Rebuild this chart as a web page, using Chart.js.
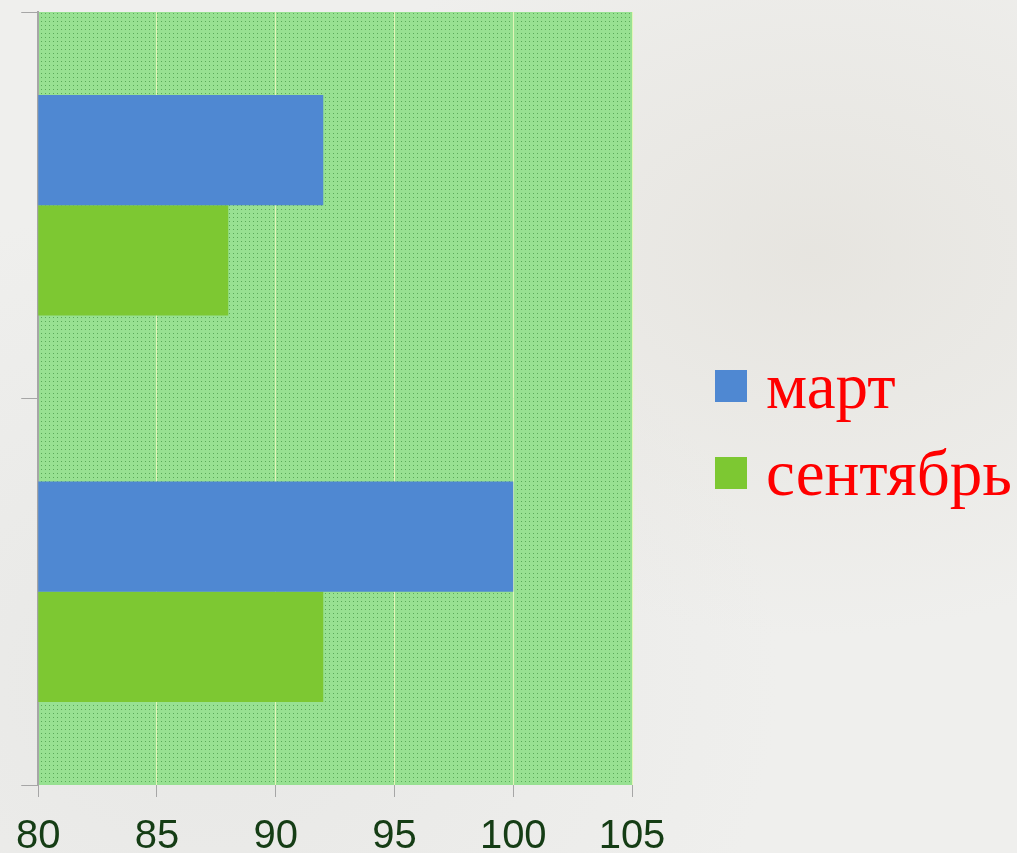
<!DOCTYPE html>
<html>
<head>
<meta charset="utf-8">
<script src="https://cdn.jsdelivr.net/npm/chart.js@4.4.1/dist/chart.umd.min.js"></script>
<style>
  html,body{margin:0;padding:0;}
  body{
    width:1017px;height:853px;overflow:hidden;position:relative;
    background:
      radial-gradient(ellipse at 80% 30%, rgba(225,222,215,0.6), rgba(0,0,0,0) 45%),
      radial-gradient(ellipse at 20% 80%, rgba(228,228,226,0.7), rgba(0,0,0,0) 50%),
      #efefed;
  }
  #wrap{position:absolute;left:0;top:0;width:1017px;height:853px;}
  .legend{position:absolute;left:715px;font-family:"Liberation Serif","Times New Roman",serif;font-size:65px;color:#ff0000;line-height:1;}
  .legend .item{position:absolute;left:0;white-space:nowrap;}
  .legend .box{position:absolute;left:0;width:32px;height:32px;}
  .legend .txt{position:absolute;left:51px;top:-16px;}
</style>
</head>
<body>
<div id="wrap"><canvas id="chart" width="1017" height="853"></canvas></div>
<div class="legend" id="legend"></div>
<script>
// dados do gráfico
const categories = ['', ''];
const seriesNames = ['март', 'сентябрь'];
const marchValues = [92, 100];
const septemberValues = [88, 92];
const xTicks = [80, 85, 90, 95, 100, 105];

const colors = ['#4f88d2', '#7dc832'];

// fundo pontilhado da área do gráfico
function makePattern(){
  const c = document.createElement('canvas');
  c.width = 8; c.height = 4;
  const g = c.getContext('2d');
  g.fillStyle = '#98e192';
  g.fillRect(0,0,8,4);
  g.fillStyle = 'rgba(70,150,70,0.75)';
  g.fillRect(1,1,1,1);
  g.fillRect(5,1,1,1);
  return c;
}

const plotBg = {
  id:'plotBg',
  beforeDraw(chart){
    const {ctx, chartArea:a} = chart;
    ctx.save();
    ctx.fillStyle = ctx.createPattern(makePattern(), 'repeat');
    ctx.fillRect(a.left, a.top, a.right-a.left, a.bottom-a.top);
    ctx.restore();
  }
};

function buildLegend(){
  const el = document.getElementById('legend');
  const tops = [370, 457];
  seriesNames.forEach((n,i)=>{
    const it = document.createElement('div');
    it.className = 'item';
    it.style.top = tops[i]+'px';
    it.innerHTML = '<div class="box" style="background:'+colors[i]+'"></div><div class="txt">'+n+'</div>';
    el.appendChild(it);
  });
}

document.addEventListener('DOMContentLoaded',()=>{
  const ctx = document.getElementById('chart').getContext('2d');
  new Chart(ctx,{
    type:'bar',
    data:{
      labels:categories,
      datasets:[
        {label:seriesNames[0], data:marchValues, backgroundColor:colors[0]},
        {label:seriesNames[1], data:septemberValues, backgroundColor:colors[1]}
      ]
    },
    options:{
      indexAxis:'y',
      responsive:false,
      animation:false,
      layout:{padding:{top:12,right:385,left:0,bottom:0}},
      datasets:{bar:{categoryPercentage:0.57, barPercentage:1}},
      plugins:{legend:{display:false}, tooltip:{enabled:false}},
      scales:{
        x:{
          type:'linear', min:80, max:105,
          afterBuildTicks(s){ s.ticks = xTicks.map(v=>({value:v})); },
          afterFit(s){ s.height = 68; },
          grid:{color:'#e2f5b8', lineWidth:1, tickLength:12, tickColor:'#a6a6a6'},
          border:{display:false},
          ticks:{color:'#153d15', padding:16, font:{family:'"Liberation Sans", Arial, sans-serif', size:40}}
        },
        y:{
          afterFit(s){ s.width = 37; },
          grid:{drawOnChartArea:false, tickLength:17, color:'#a6a6a6', offset:true},
          border:{color:'#a6a6a6', width:2},
          ticks:{display:false}
        }
      }
    },
    plugins:[plotBg]
  });
  buildLegend();
});
</script>
</body>
</html>
